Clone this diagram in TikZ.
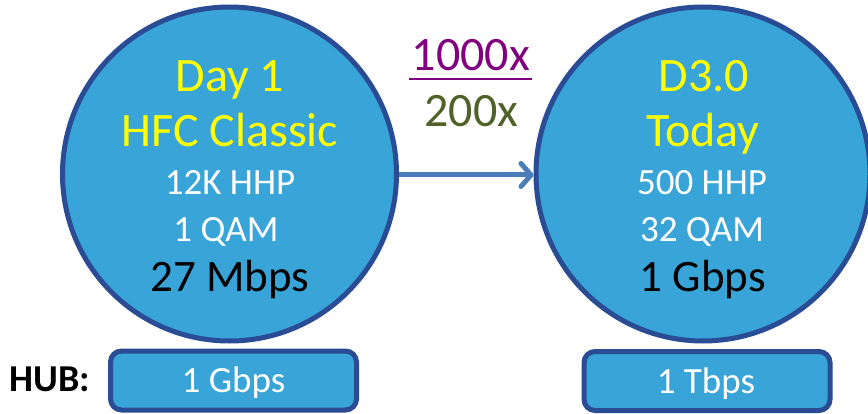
\documentclass[tikz,border=0pt]{standalone}
\usepackage{fontspec}
\setmainfont{Carlito}
\usetikzlibrary{arrows.meta}
\definecolor{cfill}{HTML}{38A4D8}
\definecolor{cline}{HTML}{2A4C94}
\definecolor{ayellow}{HTML}{FFFF00}
\definecolor{apurple}{HTML}{800080}
\definecolor{aolive}{HTML}{4F6228}
\definecolor{aarrow}{HTML}{4A7EBB}
\tikzset{
  bigcircle/.style={circle, draw=cline, fill=cfill, line width=5pt, minimum size=334pt, inner sep=0pt},
  hubbox/.style={rectangle, rounded corners=11pt, draw=cline, fill=cfill, line width=5pt, minimum width=246pt, minimum height=59pt, inner sep=0pt},
  titletext/.style={anchor=base, inner sep=0pt, text=ayellow, font=\fontsize{48}{48}\selectfont},
  infotext/.style={anchor=base, inner sep=0pt, text=white, font=\fontsize{37}{37}\selectfont},
  ratetext/.style={anchor=base, inner sep=0pt, text=black, font=\fontsize{45}{45}\selectfont},
  boxtext/.style={anchor=base, inner sep=0pt, text=white, font=\fontsize{37}{37}\selectfont},
  factortext/.style={anchor=base, inner sep=0pt, font=\fontsize{48}{48}\selectfont},
}
\begin{document}
\begin{tikzpicture}[x=1pt, y=-1pt]
\useasboundingbox (0,0) rectangle (868,414);
% circles
\node[bigcircle] (c1) at (229.5,174) {};
\node[bigcircle] (c2) at (703,174) {};
% left circle text
\node[titletext] (l1) at (230,92) {Day 1};
\node[titletext] (l2) at (230,147) {HFC Classic};
\node[infotext] (l3) at (230,195) {12K HHP};
\node[infotext] (l4) at (226,242) {1 QAM};
\node[ratetext] (l5) at (230,292) {27 Mbps};
% right circle text
\node[titletext] (r1) at (704,92) {D3.0};
\node[titletext] (r2) at (703,147) {Today};
\node[infotext] (r3) at (702,195) {500 HHP};
\node[infotext] (r4) at (702,242) {32 QAM};
\node[ratetext] (r5) at (703,292) {1 Gbps};
% factors
\node[factortext, text=apurple] (f1) at (471,71) {1000x};
\draw[apurple, line width=2.5pt] ([xshift=-3pt,yshift=-8pt]f1.base west) -- ([xshift=2pt,yshift=-8pt]f1.base east);
\node[factortext, text=aolive] (f2) at (471.5,127) {200x};
% arrow
\draw[aarrow, line width=5pt, -{Straight Barb[length=10pt, width=23pt, round]}] ([yshift=-1pt]c1.east) -- ([yshift=-1pt]c2.west);
% hub boxes
\node[hubbox] (b1) at (233.5,380.5) {};
\node[boxtext] (b1t) at (233.5,392) {1 Gbps};
\node[hubbox] (b2) at (707,381) {};
\node[boxtext] (b2t) at (706,393) {1 Tbps};
\node[anchor=base, inner sep=0pt, font=\fontsize{38}{38}\selectfont\bfseries] (hub) at (50,391) {HUB:};
\end{tikzpicture}
\end{document}
